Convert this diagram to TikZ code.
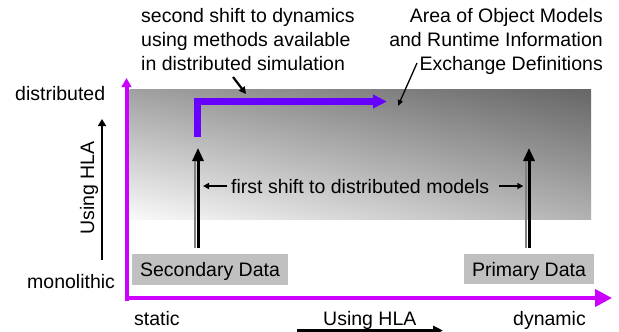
\documentclass[tikz,border=0pt]{standalone}
\usepackage{fontspec}
\setmainfont{Liberation Sans}
\usetikzlibrary{arrows.meta,shadings}
\definecolor{axismag}{RGB}{204,0,255}
\definecolor{shiftviolet}{RGB}{102,0,255}
\definecolor{boxgray}{RGB}{192,192,192}
\begin{document}
\begin{tikzpicture}[x=1pt,y=-1pt,
  lbl/.style={font=\fontsize{19.5}{23.5}\selectfont, inner sep=0pt},
  databox/.style={lbl, fill=boxgray, text height=14pt, text depth=0pt},
  axisarrow/.style={axismag, line width=4pt},
  shiftarrow/.style={shiftviolet, line width=7pt, miter limit=10,
    -{Triangle[length=14pt,width=13pt]}},
  shadowline/.style={gray, line width=1.8pt, transform canvas={xshift=-3pt}},
  bigarrow/.style={black, line width=3pt, -{Triangle[length=13pt,width=11pt]}},
  smallarrow/.style={black, line width=1.6pt, -{Triangle[length=6pt,width=6pt]}},
  leaderthick/.style={black, line width=2.2pt, -{Triangle[length=7pt,width=7pt]}},
  leaderthin/.style={black, line width=1.3pt, -{Triangle[length=6pt,width=5pt]}},
  hlaarrow/.style={black, line width=2.6pt}]
\clip (0,0) rectangle (619,332);
\fill[white] (0,0) rectangle (619,332);

% gradient area
\shade[upper left=black!37, upper right=black!60, lower left=black!2, lower right=black!30]
  (129.5,89) rectangle (591,219.5);

% axes
\coordinate (vbot) at (126.5,301);
\coordinate (vtop) at (126.5,78);
\coordinate (hleft) at (124.5,298);
\coordinate (hright) at (612,298);
\draw[axisarrow, -{Triangle[length=9pt,width=9.5pt]}] (vbot) -- (vtop);
\draw[axisarrow, -{Triangle[length=17pt,width=17pt]}] (hleft) -- (hright);

% axis labels
\node[lbl, anchor=base west] (dist) at (15,100) {distributed};
\node[lbl, anchor=base west] (mono) at (27,288) {monolithic};
\node[lbl, anchor=base west] (stat) at (134,325) {static};
\node[lbl, anchor=base west] (dyn) at (513,325) {dynamic};
\node[lbl, anchor=base west] (hlax) at (323,325) {Using HLA};
\node[lbl, anchor=base west, rotate=90] (hlay) at (94,235) {Using HLA};

% HLA arrows
\coordinate (hy0) at (102,260);
\coordinate (hy1) at (102,119);
\draw[black, line width=2.6pt, -{Triangle[length=7pt,width=8pt]}] (hy0) -- (hy1);
\coordinate (hx0) at (297,330.5);
\coordinate (hx1) at (443,330.5);
\draw[hlaarrow, -{Triangle[length=10pt,width=9pt]}] (hx0) -- (hx1);

% data boxes
\node[databox, minimum width=156pt, minimum height=31pt] (sec) at (210,269.5) {Secondary Data};
\node[databox, minimum width=130pt, minimum height=30pt] (prim) at (529,269) {Primary Data};

% first shift arrows
\coordinate (t1) at (198,148);
\coordinate (t2) at (529,148);
\draw[shadowline, shorten <=6pt, shorten >=12pt] (sec.north -| t1) -- (t1);
\draw[bigarrow, shorten <=6pt] (sec.north -| t1) -- (t1);
\draw[shadowline, shorten <=6pt, shorten >=12pt] (prim.north -| t2) -- (t2);
\draw[bigarrow, shorten <=6pt] (prim.north -| t2) -- (t2);

\node[lbl, anchor=base west] (fs) at (231,193) {first shift to distributed models};
\draw[smallarrow] ([xshift=-4pt]fs.west) -- ([xshift=-28pt]fs.west);
\draw[smallarrow] ([xshift=10pt]fs.east) -- ([xshift=34pt]fs.east);

% second shift arrow
\coordinate (v0) at (197.5,137);
\coordinate (v1) at (197.5,101.5);
\coordinate (v2) at (387,101.5);
\draw[shiftarrow] (v0) -- (v1) -- (v2);

% top texts
\node[lbl, anchor=base west] (s1) at (141,23) {second shift to dynamics};
\node[lbl, anchor=base west] (s2) at (141,46.5) {using methods available};
\node[lbl, anchor=base west] (s3) at (141,70) {in distributed simulation};
\node[lbl, anchor=base east] (a1) at (603,23) {Area of Object Models};
\node[lbl, anchor=base east] (a2) at (603,46.5) {and Runtime Information};
\node[lbl, anchor=base east] (a3) at (603,70) {Exchange Definitions};

% leaders
\coordinate (l1a) at (233,77);
\coordinate (l1b) at (246,94);
\draw[leaderthick] (l1a) -- (l1b);
\coordinate (l2a) at (417,63);
\coordinate (l2b) at (398,106);
\draw[leaderthin] (l2a) -- (l2b);
\end{tikzpicture}
\end{document}
